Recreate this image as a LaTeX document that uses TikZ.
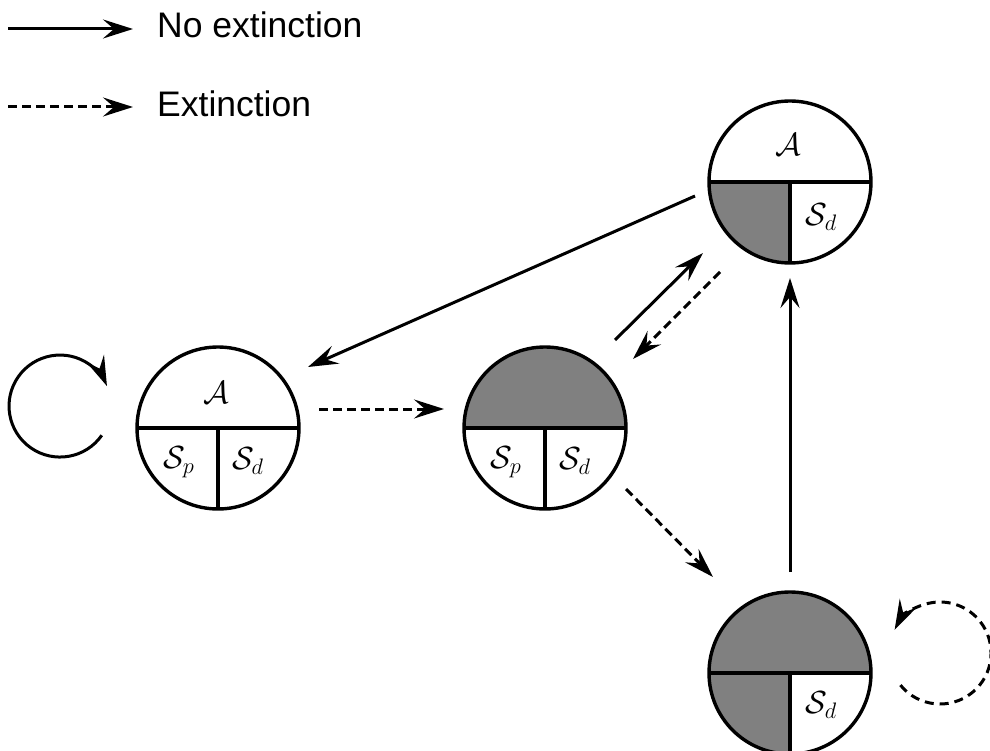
\documentclass[tikz,border=0pt]{standalone}
\usepackage{fix-cm}
\usepackage{fontspec}
\newfontfamily\legendfont{Liberation Sans}
\usetikzlibrary{arrows.meta,calc}
\definecolor{midgrey}{RGB}{128,128,128}
\begin{document}
\begin{tikzpicture}[x=1pt,y=-1pt,
  >={Stealth[length=30pt,width=19pt,inset=11pt]},
  noext/.style={line width=3pt,->},
  ext/.style={noext,dash pattern=on 9pt off 5pt},
  loopsolid/.style={line width=3pt,->},
  loopdash/.style={line width=3pt,->,dash pattern=on 9pt off 6pt},
  state/.style={circle,draw,line width=3.4pt,minimum size=162pt,inner sep=0pt},
  divide/.style={path picture={
     \draw[line width=3.4pt] (path picture bounding box.west) -- (path picture bounding box.east)
       (path picture bounding box.center) -- (path picture bounding box.south);}},
  greytop/.style={path picture={
     \fill[midgrey] (path picture bounding box.north west) rectangle (path picture bounding box.east);
     \draw[line width=3.4pt] (path picture bounding box.west) -- (path picture bounding box.east)
       (path picture bounding box.center) -- (path picture bounding box.south);}},
  greyquarter/.style={path picture={
     \fill[midgrey] (path picture bounding box.west) rectangle (path picture bounding box.south);
     \draw[line width=3.4pt] (path picture bounding box.west) -- (path picture bounding box.east)
       (path picture bounding box.center) -- (path picture bounding box.south);}},
  greyboth/.style={path picture={
     \fill[midgrey] (path picture bounding box.north west) rectangle (path picture bounding box.east);
     \fill[midgrey] (path picture bounding box.west) rectangle (path picture bounding box.south);
     \draw[line width=3.4pt] (path picture bounding box.west) -- (path picture bounding box.east)
       (path picture bounding box.center) -- (path picture bounding box.south);}},
  lab/.style={inner sep=0pt,font=\fontsize{32}{36}\selectfont},
  legend/.style={anchor=base west,inner sep=0pt,font=\legendfont\fontsize{35.5}{40}\selectfont}
]
\useasboundingbox (0,0) rectangle (990,751);

% legend
\coordinate (l1a) at (8,29);
\coordinate (l1b) at (133,29);
\coordinate (l2a) at (8,107);
\coordinate (l2b) at (133,107);
\draw[noext] (l1a) -- (l1b);
\draw[ext] (l2a) -- (l2b);
\node[legend] (t1) at (157,38) {No extinction};
\node[legend] (t2) at (157,117) {Extinction};

% states
\node[state,divide] (c1) at (218,428) {};
\node[state,greytop] (c2) at (545,428) {};
\node[state,greyquarter] (c3) at (790,182) {};
\node[state,greyboth] (c4) at (790,673) {};

% labels
\node[lab] (a1) at ($(c1)+(-2,-35)$) {$\mathcal{A}$};
\node[lab] (sp1) at ($(c1)+(-39,34)$) {$\mathcal{S}_p$};
\node[lab] (sd1) at ($(c1)+(30,33)$) {$\mathcal{S}_d$};
\node[lab] (sp2) at ($(c2)+(-39,34)$) {$\mathcal{S}_p$};
\node[lab] (sd2) at ($(c2)+(30,33)$) {$\mathcal{S}_d$};
\node[lab] (a3) at ($(c3)+(-2,-37)$) {$\mathcal{A}$};
\node[lab] (sd3) at ($(c3)+(31,35)$) {$\mathcal{S}_d$};
\node[lab] (sd4) at ($(c4)+(31,32)$) {$\mathcal{S}_d$};

% transitions
\draw[noext] ($(c3)+(-95,14)$) -- ($(c1)+(90,-61)$);
\draw[ext] ($(c1)+(101,-19)$) -- ($(c2)+(-101,-19)$);
\draw[noext] ($(c2)+(70,-88)$) -- ($(c3)+(-87,71)$);
\draw[ext] ($(c3)+(-70,90)$) -- ($(c2)+(88,-69)$);
\draw[ext] ($(c2)+(81,61)$) -- ($(c4)+(-77,-96)$);
\draw[noext] ($(c4)+(0,-101)$) -- ($(c3)+(0,96)$);

% self loops
\draw[loopsolid] ($(c1)+(-116.2,7.3)$) arc[start angle=35,end angle=337,radius=51];
\draw[loopdash] ($(c4)+(110.4,12.1)$) arc[start angle=141,end angle=-153,radius=51];
\end{tikzpicture}
\end{document}
